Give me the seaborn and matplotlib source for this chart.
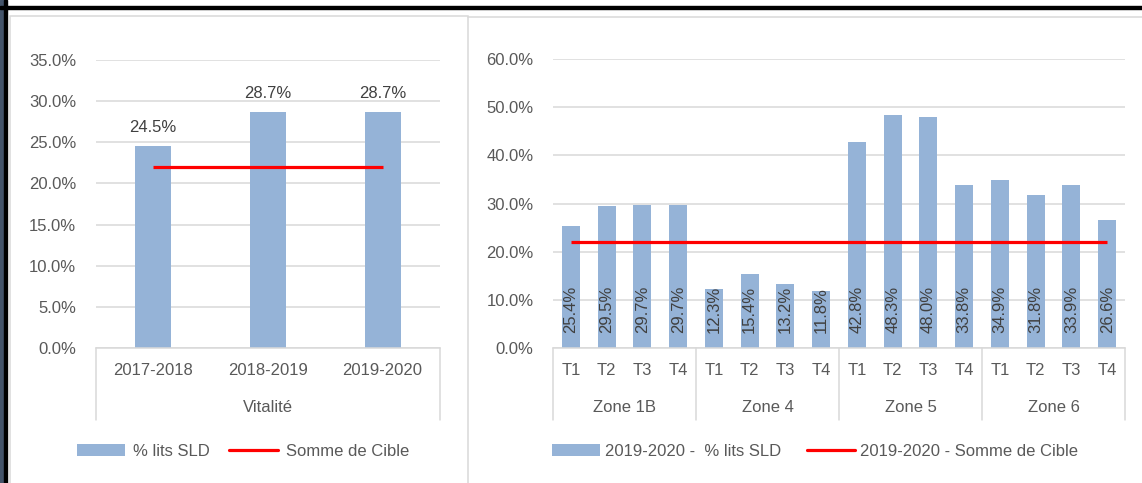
import matplotlib
matplotlib.use('Agg')
import matplotlib.pyplot as plt
import matplotlib.transforms as mtransforms
from matplotlib.patches import Rectangle, Patch
from matplotlib.lines import Line2D
from matplotlib.ticker import MultipleLocator, FuncFormatter
import numpy as np
import pandas as pd
import seaborn as sns

# left chart : Vitalité
years = ['2017-2018', '2018-2019', '2019-2020']
pct_lits = [24.5, 28.7, 28.7]
cible_left = [22.0, 22.0, 22.0]

# right chart : 2019-2020 by zone / trimestre
zones = ['Zone 1B', 'Zone 4', 'Zone 5', 'Zone 6']
trimestres = ['T1', 'T2', 'T3', 'T4']
pct_zone = [25.4, 29.5, 29.7, 29.7,
            12.3, 15.4, 13.2, 11.8,
            42.8, 48.3, 48.0, 33.8,
            34.9, 31.8, 33.9, 26.6]
cible_right = [22.0, 22.0, 22.0, 22.0, 22.0, 22.0, 22.0, 22.0,
               22.0, 22.0, 22.0, 22.0, 22.0, 22.0, 22.0, 22.0]

BAR = '#95B3D7'
RED = '#FF0000'
TXT = '#595959'
LBL = '#404040'
GRID = '#D9D9D9'
FS = 12

sns.set_style('white')
plt.rcParams['font.family'] = ['Liberation Sans', 'DejaVu Sans']

W, H = 1142, 483
fig = plt.figure(figsize=(W / 100, H / 100), dpi=100)


def fx(px):
    return px / W


def fy(py):
    return 1 - py / H


pct_fmt = FuncFormatter(lambda v, p: f'{v:.1f}%')


def style_axis(ax, step):
    ax.yaxis.set_major_locator(MultipleLocator(step))
    ax.yaxis.set_major_formatter(pct_fmt)
    ax.yaxis.grid(True, color=GRID, lw=1.1)
    ax.set_axisbelow(True)
    for s in ['left', 'top', 'right']:
        ax.spines[s].set_visible(False)
    ax.spines['bottom'].set_color(GRID)
    ax.spines['bottom'].set_linewidth(1.1)
    ax.tick_params(axis='y', length=0, pad=14, labelsize=FS, labelcolor=TXT)
    ax.tick_params(axis='x', length=0, pad=11, labelsize=FS, labelcolor=TXT)
    ax.set_xlabel('')
    ax.set_ylabel('')


# ---- left chart
ax1 = fig.add_axes([fx(95.7), fy(348), (440 - 95.7) / W, 288 / H])
df1 = pd.DataFrame({'annee': years, 'pct': pct_lits})
sns.barplot(data=df1, x='annee', y='pct', color=BAR, saturation=1,
            width=0.314, linewidth=0, ax=ax1)
ax1.plot(np.arange(len(years)), cible_left, color=RED, lw=2.3,
         solid_capstyle='butt', zorder=4)
ax1.bar_label(ax1.containers[0], labels=[f'{v:.1f}%' for v in pct_lits],
              padding=8, color=LBL, fontsize=FS)
style_axis(ax1, 5)

tr1 = mtransforms.blended_transform_factory(ax1.transData, ax1.transAxes)
for xb in [-0.5, len(years) - 0.5]:
    ax1.add_line(Line2D([xb, xb], [0, -0.25], transform=tr1, color=GRID,
                        lw=1.1, clip_on=False))
ax1.text((len(years) - 1) / 2, -0.205, 'Vitalité', transform=tr1,
         ha='center', va='center', fontsize=FS, color=TXT)
ax1.set_xlim(-0.5, len(years) - 0.5)
ax1.set_ylim(0, 35)

# ---- right chart
ax2 = fig.add_axes([fx(553), fy(348), (1125 - 553) / W, 289 / H])
keys = [f'{z} {t}' for z in zones for t in trimestres]
df2 = pd.DataFrame({'cat': keys, 'pct': pct_zone})
sns.barplot(data=df2, x='cat', y='pct', color=BAR, saturation=1,
            width=0.5, linewidth=0, ax=ax2)
ax2.plot(np.arange(len(keys)), cible_right, color=RED, lw=2.3,
         solid_capstyle='butt', zorder=4)
for i, v in enumerate(pct_zone):
    ax2.annotate(f'{v:.1f}%', xy=(i, 0), xytext=(0, 10.5),
                 textcoords='offset points', rotation=90, ha='center',
                 va='bottom', fontsize=FS, color=LBL, zorder=5)
ax2.set_xticks(np.arange(len(keys)))
ax2.set_xticklabels([t for z in zones for t in trimestres])
style_axis(ax2, 10)

tr2 = mtransforms.blended_transform_factory(ax2.transData, ax2.transAxes)
n_t = len(trimestres)
for j in range(len(zones) + 1):
    xb = j * n_t - 0.5
    ax2.add_line(Line2D([xb, xb], [0, -0.25], transform=tr2, color=GRID,
                        lw=1.1, clip_on=False))
for j, z in enumerate(zones):
    ax2.text(j * n_t + (n_t - 1) / 2, -0.207, z, transform=tr2,
             ha='center', va='center', fontsize=FS, color=TXT)
ax2.set_xlim(-0.5, len(keys) - 0.5)
ax2.set_ylim(0, 60)

# ---- legends
h1 = [Patch(facecolor=BAR, edgecolor='none', label='% lits SLD'),
      Line2D([], [], color=RED, lw=2.3, label='Somme de Cible')]
fig.legend(handles=h1, loc='center', bbox_to_anchor=(fx(243), fy(451)),
           ncol=2, frameon=False, handlelength=2.9, handleheight=0.75,
           handletextpad=0.5, columnspacing=1.15, fontsize=FS, labelcolor=TXT)
h2 = [Patch(facecolor=BAR, edgecolor='none', label='2019-2020 -  % lits SLD'),
      Line2D([], [], color=RED, lw=2.3, label='2019-2020 - Somme de Cible')]
fig.legend(handles=h2, loc='center', bbox_to_anchor=(fx(815), fy(451)),
           ncol=2, frameon=False, handlelength=2.9, handleheight=0.75,
           handletextpad=0.3, columnspacing=1.5, fontsize=FS, labelcolor=TXT)

# ---- page frame
fig.add_artist(Rectangle((0, 0), fx(4), 1, transform=fig.transFigure,
                         color='#44546A', zorder=10))
fig.add_artist(Rectangle((fx(4), 0), fx(3), 1, transform=fig.transFigure,
                         color='black', zorder=10))
fig.add_artist(Rectangle((0, fy(9)), 1, 3 / H, transform=fig.transFigure,
                         color='black', zorder=10))
fig.add_artist(Rectangle((fx(10), -0.01), fx(468) - fx(10), fy(16) + 0.01,
                         transform=fig.transFigure, fill=False,
                         edgecolor=GRID, lw=1.1))
fig.add_artist(Line2D([fx(468), 1], [fy(17), fy(17)], transform=fig.transFigure,
                      color=GRID, lw=1.1))

fig.savefig('out.png', dpi=100)
